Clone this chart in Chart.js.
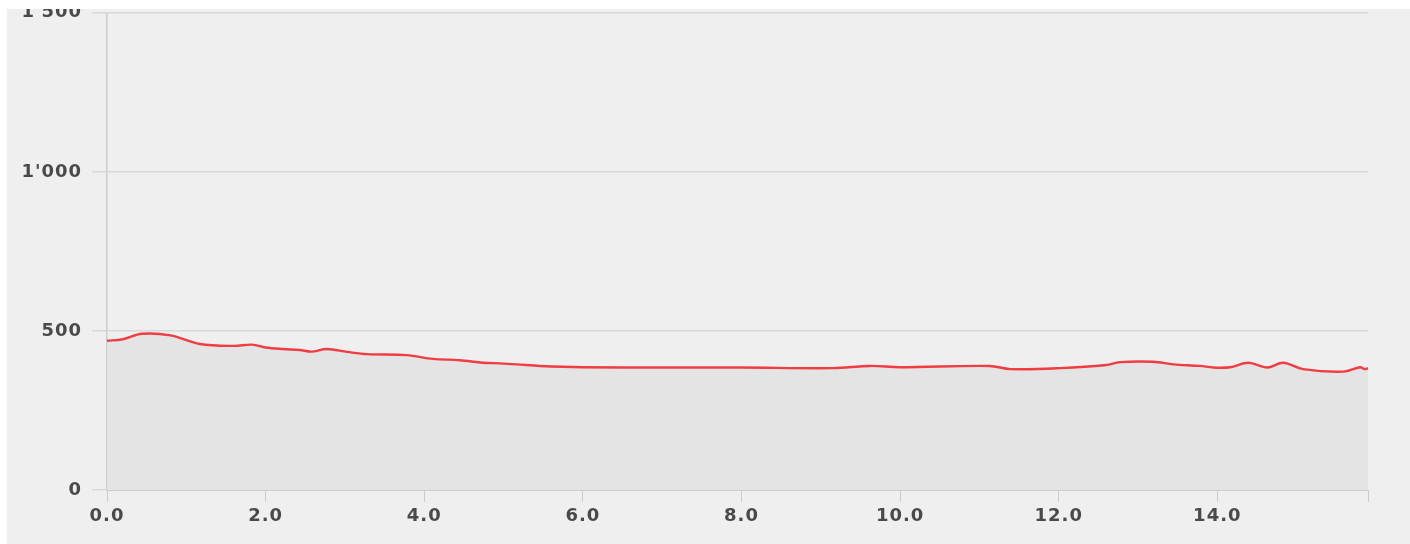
<!DOCTYPE html>
<html>
<head>
<meta charset="utf-8">
<title>Profile</title>
<script src="https://cdn.jsdelivr.net/npm/chart.js@4"></script>
<style>
    html, body { margin: 0; padding: 0; background: #ffffff; }
    #panel {
        position: absolute;
        left: 7px;
        top: 0;
        width: 1403px;
        height: 544px;
        overflow: hidden;
        background: #efefef;
    }
    /* canvas sits a little higher so the plot top lands where the screenshot has it */
    #profileChart {
        position: absolute;
        left: 0;
        top: -8px;
    }
    /* white strip at the top cuts the upper label like the screenshot */
    #top-strip {
        position: absolute;
        left: 0;
        top: 0;
        width: 1410px;
        height: 9px;
        background: #ffffff;
    }
</style>
</head>
<body>
<div id="panel"><canvas id="profileChart" width="1403" height="552"></canvas></div>
<div id="top-strip"></div>
<script>
// Distance along the profile and measured values
const distances = [0, 0.2, 0.44, 0.8, 1.17, 1.6, 1.83, 2.0, 2.22, 2.43, 2.58, 2.77, 3.03, 3.28, 3.78,
    4.11, 4.45, 4.74, 4.96, 5.17, 5.46, 6.0, 7.0, 8.0, 9.15, 9.62, 10.0, 11.13, 11.39, 12.02,
    12.6, 12.77, 13.19, 13.45, 13.78, 13.95, 14.16, 14.39, 14.63, 14.83, 15.08, 15.59, 15.8, 15.86, 15.9];
const values = [469, 474, 491, 486, 459, 453, 457, 448, 443, 440, 435, 443, 434, 427, 424,
    412, 408, 400, 398, 395, 390, 386, 385, 385, 383, 390, 386, 390, 380, 383,
    393, 402, 403, 395, 390, 385, 386, 400, 385, 400, 380, 372, 386, 380, 383];

const xMax = 15.9;
const yTicks = [0, 500, 1000, 1500];

const tickFont = { family: 'DejaVu Sans', size: 18, weight: 'bold' };
const tickColor = '#4a4a4a';

function formatThousands(v) {
    return String(v).replace(/\B(?=(\d{3})+(?!\d))/g, "'");
}

// the screenshot's labels are stretched wide, spread the glyphs a bit
const wideText = {
    id: 'wideText',
    beforeDraw(chart) {
        chart.ctx.letterSpacing = '1px';
    }
};

const points = distances.map((d, i) => ({ x: d, y: values[i] }));

const ctx = document.getElementById('profileChart').getContext('2d');

new Chart(ctx, {
    type: 'line',
    data: {
        datasets: [{
            data: points,
            borderColor: '#ef3d42',
            backgroundColor: '#e4e4e4',
            borderWidth: 2.4,
            fill: 'origin',
            tension: 0.35,
            pointRadius: 0
        }]
    },
    options: {
        responsive: false,
        animation: false,
        layout: { padding: { top: 6, right: 42, bottom: 0, left: 0 } },
        plugins: {
            legend: { display: false },
            tooltip: { enabled: false }
        },
        scales: {
            x: {
                type: 'linear',
                min: 0,
                max: xMax,
                afterFit: (scale) => { scale.height = 54; },
                grid: {
                    drawOnChartArea: false,
                    drawTicks: true,
                    tickLength: 12,
                    color: '#cccccc'
                },
                border: { color: '#cccccc', width: 1 },
                ticks: {
                    stepSize: 2,
                    autoSkip: false,
                    maxRotation: 0,
                    padding: 4,
                    color: tickColor,
                    font: tickFont,
                    callback: (v) => (v % 2 === 0 ? v.toFixed(1) : '')
                }
            },
            y: {
                min: 0,
                max: 1500,
                afterFit: (scale) => { scale.width = 100; },
                afterBuildTicks: (scale) => { scale.ticks = yTicks.map(v => ({ value: v })); },
                grid: {
                    color: '#d8d8d8',
                    drawTicks: true,
                    tickLength: 15,
                    lineWidth: 1.5
                },
                border: { color: '#cccccc', width: 1.5 },
                ticks: {
                    padding: 10,
                    color: tickColor,
                    font: tickFont,
                    callback: (v) => formatThousands(v)
                }
            }
        }
    },
    plugins: [wideText]
});
</script>
</body>
</html>
